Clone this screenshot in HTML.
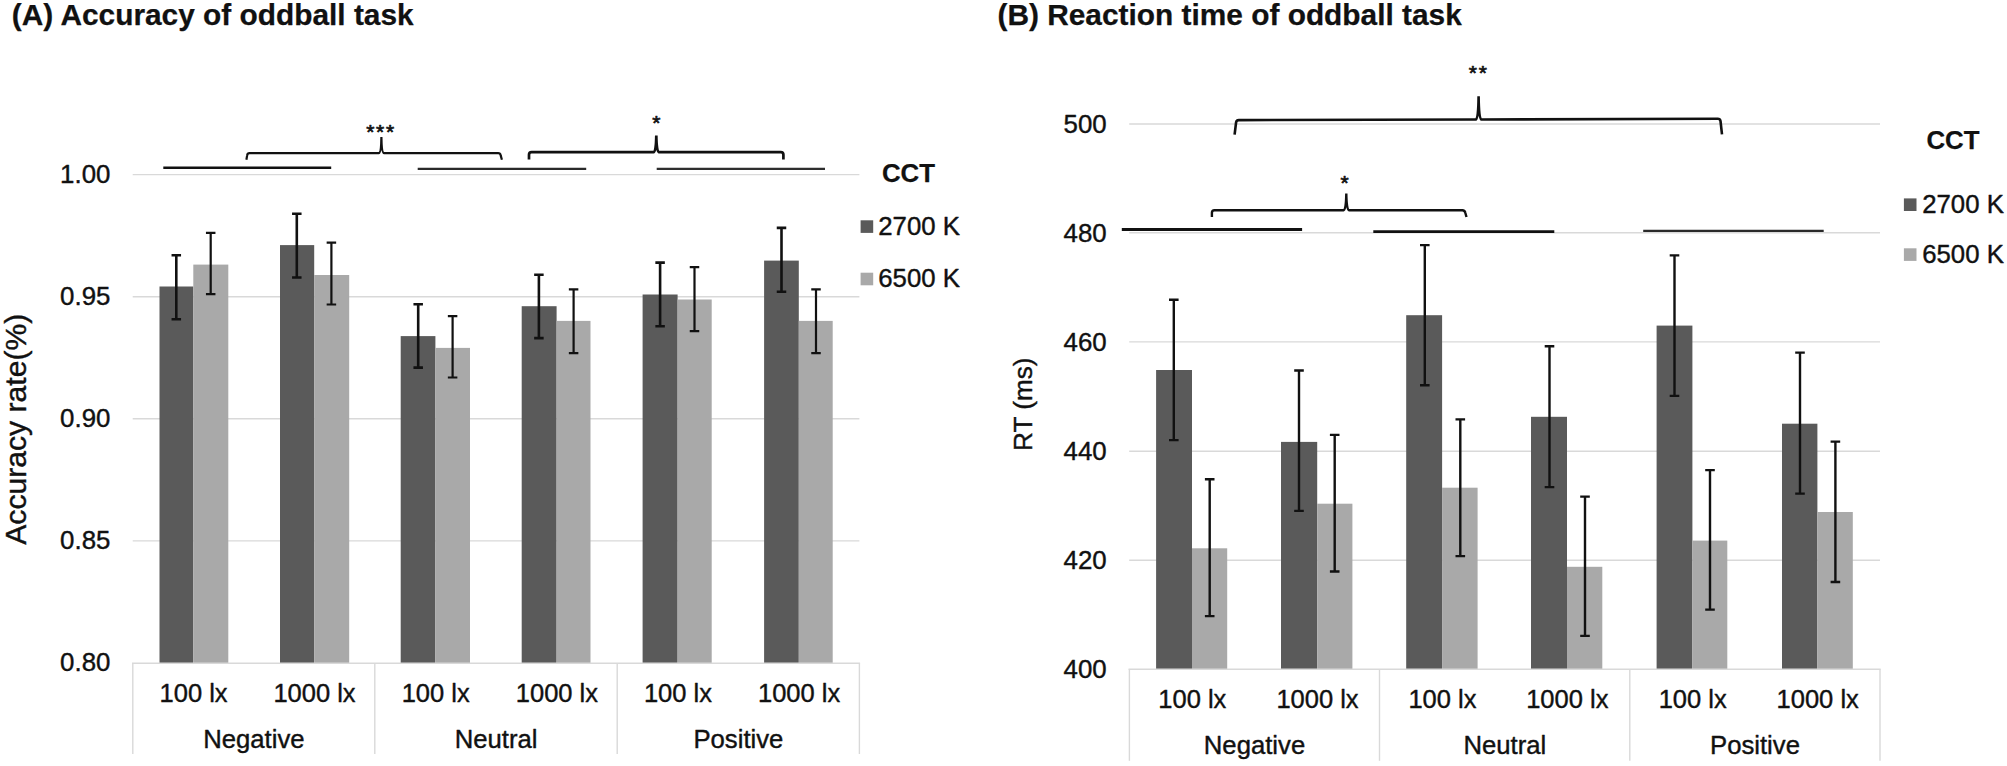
<!DOCTYPE html>
<html lang="en">
<head>
<meta charset="utf-8">
<title>Oddball task: accuracy and reaction time</title>
<style>
html,body{margin:0;padding:0;background:#fff;}
body{width:2007px;height:766px;overflow:hidden;}
svg{display:block;}
text{font-family:"Liberation Sans", Arial, Helvetica, sans-serif;fill:#111;stroke:#111;stroke-width:0.4px;stroke-linejoin:round;}
.b{font-weight:bold;stroke-width:0.25px;}
</style>
</head>
<body>
<svg width="2007" height="766" viewBox="0 0 2007 766">
<rect x="0" y="0" width="2007" height="766" fill="#ffffff"/>
<g id="chartA">
<line x1="132.7" y1="174.6" x2="859.4" y2="174.6" stroke="#d9d9d9" stroke-width="1.4"/>
<line x1="132.7" y1="296.7" x2="859.4" y2="296.7" stroke="#d9d9d9" stroke-width="1.4"/>
<line x1="132.7" y1="418.8" x2="859.4" y2="418.8" stroke="#d9d9d9" stroke-width="1.4"/>
<line x1="132.7" y1="540.9" x2="859.4" y2="540.9" stroke="#d9d9d9" stroke-width="1.4"/>
<rect x="159.5" y="286.5" width="33.80" height="376.80" fill="#5a5a5a"/>
<rect x="193.3" y="264.6" width="35.00" height="398.70" fill="#a9a9a9"/>
<rect x="280.0" y="245.1" width="34.20" height="418.20" fill="#5a5a5a"/>
<rect x="314.2" y="275.0" width="35.00" height="388.30" fill="#a9a9a9"/>
<rect x="400.7" y="336.1" width="34.70" height="327.20" fill="#5a5a5a"/>
<rect x="435.4" y="347.9" width="34.60" height="315.40" fill="#a9a9a9"/>
<rect x="521.7" y="306.2" width="34.90" height="357.10" fill="#5a5a5a"/>
<rect x="556.6" y="320.9" width="33.90" height="342.40" fill="#a9a9a9"/>
<rect x="642.6" y="294.5" width="35.00" height="368.80" fill="#5a5a5a"/>
<rect x="677.6" y="299.5" width="34.10" height="363.80" fill="#a9a9a9"/>
<rect x="764.1" y="260.6" width="34.70" height="402.70" fill="#5a5a5a"/>
<rect x="798.8" y="320.9" width="33.90" height="342.40" fill="#a9a9a9"/>
<line x1="132.0" y1="663.3" x2="860.1" y2="663.3" stroke="#d9d9d9" stroke-width="1.4"/>
<line x1="132.8" y1="663.3" x2="132.8" y2="754.0" stroke="#d9d9d9" stroke-width="1.4"/>
<line x1="374.8" y1="663.3" x2="374.8" y2="754.0" stroke="#d9d9d9" stroke-width="1.4"/>
<line x1="617.2" y1="663.3" x2="617.2" y2="754.0" stroke="#d9d9d9" stroke-width="1.4"/>
<line x1="859.4" y1="663.3" x2="859.4" y2="754.0" stroke="#d9d9d9" stroke-width="1.4"/>
<path d="M171.55 255.3H181.05M176.3 255.3V319.2M171.55 319.2H181.05" stroke="#111111" stroke-width="2.6" fill="none"/>
<path d="M205.95 232.9H215.45M210.7 232.9V294.2M205.95 294.2H215.45" stroke="#111111" stroke-width="2.2" fill="none"/>
<path d="M292.05 213.7H301.55M296.8 213.7V277.5M292.05 277.5H301.55" stroke="#111111" stroke-width="2.6" fill="none"/>
<path d="M326.65 242.6H336.15M331.4 242.6V304.5M326.65 304.5H336.15" stroke="#111111" stroke-width="2.2" fill="none"/>
<path d="M413.45 304.2H422.95M418.2 304.2V367.6M413.45 367.6H422.95" stroke="#111111" stroke-width="2.6" fill="none"/>
<path d="M447.85 316.2H457.35M452.6 316.2V377.5M447.85 377.5H457.35" stroke="#111111" stroke-width="2.2" fill="none"/>
<path d="M534.15 274.8H543.65M538.9 274.8V338.1M534.15 338.1H543.65" stroke="#111111" stroke-width="2.6" fill="none"/>
<path d="M568.85 289.3H578.35M573.6 289.3V353.1M568.85 353.1H578.35" stroke="#111111" stroke-width="2.2" fill="none"/>
<path d="M655.35 262.6H664.85M660.1 262.6V326.2M655.35 326.2H664.85" stroke="#111111" stroke-width="2.6" fill="none"/>
<path d="M689.75 267.1H699.25M694.5 267.1V331.1M689.75 331.1H699.25" stroke="#111111" stroke-width="2.2" fill="none"/>
<path d="M776.75 227.9H786.25M781.5 227.9V291.7M776.75 291.7H786.25" stroke="#111111" stroke-width="2.6" fill="none"/>
<path d="M811.25 289.3H820.75M816.0 289.3V353.1M811.25 353.1H820.75" stroke="#111111" stroke-width="2.2" fill="none"/>
<text x="110.4" y="182.60" text-anchor="end" font-size="25.85">1.00</text>
<text x="110.4" y="304.70" text-anchor="end" font-size="25.85">0.95</text>
<text x="110.4" y="426.80" text-anchor="end" font-size="25.85">0.90</text>
<text x="110.4" y="548.90" text-anchor="end" font-size="25.85">0.85</text>
<text x="110.4" y="671.00" text-anchor="end" font-size="25.85">0.80</text>
<text x="193.6" y="702.2" text-anchor="middle" font-size="25.5">100 lx</text>
<text x="314.5" y="702.2" text-anchor="middle" font-size="25.5">1000 lx</text>
<text x="435.7" y="702.2" text-anchor="middle" font-size="25.5">100 lx</text>
<text x="556.9" y="702.2" text-anchor="middle" font-size="25.5">1000 lx</text>
<text x="677.9" y="702.2" text-anchor="middle" font-size="25.5">100 lx</text>
<text x="799.1" y="702.2" text-anchor="middle" font-size="25.5">1000 lx</text>
<text x="253.9" y="747.6" text-anchor="middle" font-size="25.7">Negative</text>
<text x="496.1" y="747.6" text-anchor="middle" font-size="25.7">Neutral</text>
<text x="738.4" y="747.6" text-anchor="middle" font-size="25.7">Positive</text>
</g>
<g id="chartB">
<line x1="1129.2" y1="124.0" x2="1880.0" y2="124.0" stroke="#d9d9d9" stroke-width="1.4"/>
<line x1="1129.2" y1="232.8" x2="1880.0" y2="232.8" stroke="#d9d9d9" stroke-width="1.4"/>
<line x1="1129.2" y1="341.9" x2="1880.0" y2="341.9" stroke="#d9d9d9" stroke-width="1.4"/>
<line x1="1129.2" y1="451.2" x2="1880.0" y2="451.2" stroke="#d9d9d9" stroke-width="1.4"/>
<line x1="1129.2" y1="560.3" x2="1880.0" y2="560.3" stroke="#d9d9d9" stroke-width="1.4"/>
<rect x="1156.1" y="370.0" width="35.90" height="299.30" fill="#5a5a5a"/>
<rect x="1192.0" y="548.3" width="35.20" height="121.00" fill="#a9a9a9"/>
<rect x="1281.0" y="441.9" width="36.20" height="227.40" fill="#5a5a5a"/>
<rect x="1317.2" y="503.7" width="35.20" height="165.60" fill="#a9a9a9"/>
<rect x="1406.2" y="315.2" width="35.90" height="354.10" fill="#5a5a5a"/>
<rect x="1442.1" y="487.7" width="35.50" height="181.60" fill="#a9a9a9"/>
<rect x="1531.0" y="416.8" width="36.00" height="252.50" fill="#5a5a5a"/>
<rect x="1567.0" y="566.8" width="35.30" height="102.50" fill="#a9a9a9"/>
<rect x="1656.6" y="325.6" width="35.80" height="343.70" fill="#5a5a5a"/>
<rect x="1692.4" y="540.6" width="34.90" height="128.70" fill="#a9a9a9"/>
<rect x="1782.0" y="423.7" width="35.40" height="245.60" fill="#5a5a5a"/>
<rect x="1817.4" y="512.0" width="35.40" height="157.30" fill="#a9a9a9"/>
<line x1="1128.5" y1="669.3" x2="1880.7" y2="669.3" stroke="#d9d9d9" stroke-width="1.4"/>
<line x1="1129.4" y1="669.3" x2="1129.4" y2="760.8" stroke="#d9d9d9" stroke-width="1.4"/>
<line x1="1379.5" y1="669.3" x2="1379.5" y2="760.8" stroke="#d9d9d9" stroke-width="1.4"/>
<line x1="1629.8" y1="669.3" x2="1629.8" y2="760.8" stroke="#d9d9d9" stroke-width="1.4"/>
<line x1="1880.0" y1="669.3" x2="1880.0" y2="760.8" stroke="#d9d9d9" stroke-width="1.4"/>
<path d="M1169.00 299.7H1178.60M1173.8 299.7V440.1M1169.00 440.1H1178.60" stroke="#111111" stroke-width="2.4" fill="none"/>
<path d="M1204.90 479.3H1214.50M1209.7 479.3V616.1M1204.90 616.1H1214.50" stroke="#111111" stroke-width="2.4" fill="none"/>
<path d="M1294.20 370.5H1303.80M1299.0 370.5V510.9M1294.20 510.9H1303.80" stroke="#111111" stroke-width="2.4" fill="none"/>
<path d="M1329.90 434.9H1339.50M1334.7 434.9V571.5M1329.90 571.5H1339.50" stroke="#111111" stroke-width="2.4" fill="none"/>
<path d="M1420.00 245.1H1429.60M1424.8 245.1V385.2M1420.00 385.2H1429.60" stroke="#111111" stroke-width="2.4" fill="none"/>
<path d="M1455.50 419.4H1465.10M1460.3 419.4V556.1M1455.50 556.1H1465.10" stroke="#111111" stroke-width="2.4" fill="none"/>
<path d="M1544.70 346.3H1554.30M1549.5 346.3V487.1M1544.70 487.1H1554.30" stroke="#111111" stroke-width="2.4" fill="none"/>
<path d="M1580.20 496.6H1589.80M1585.0 496.6V635.9M1580.20 635.9H1589.80" stroke="#111111" stroke-width="2.4" fill="none"/>
<path d="M1669.70 255.4H1679.30M1674.5 255.4V395.9M1669.70 395.9H1679.30" stroke="#111111" stroke-width="2.4" fill="none"/>
<path d="M1705.20 470.1H1714.80M1710.0 470.1V609.6M1705.20 609.6H1714.80" stroke="#111111" stroke-width="2.4" fill="none"/>
<path d="M1795.20 352.6H1804.80M1800.0 352.6V493.6M1795.20 493.6H1804.80" stroke="#111111" stroke-width="2.4" fill="none"/>
<path d="M1830.60 441.6H1840.20M1835.4 441.6V582.0M1830.60 582.0H1840.20" stroke="#111111" stroke-width="2.4" fill="none"/>
<text x="1106.7" y="132.75" text-anchor="end" font-size="25.85">500</text>
<text x="1106.7" y="241.55" text-anchor="end" font-size="25.85">480</text>
<text x="1106.7" y="350.65" text-anchor="end" font-size="25.85">460</text>
<text x="1106.7" y="459.85" text-anchor="end" font-size="25.85">440</text>
<text x="1106.7" y="569.05" text-anchor="end" font-size="25.85">420</text>
<text x="1106.7" y="678.05" text-anchor="end" font-size="25.85">400</text>
<text x="1192.3" y="708.4" text-anchor="middle" font-size="25.5">100 lx</text>
<text x="1317.5" y="708.4" text-anchor="middle" font-size="25.5">1000 lx</text>
<text x="1442.4" y="708.4" text-anchor="middle" font-size="25.5">100 lx</text>
<text x="1567.3" y="708.4" text-anchor="middle" font-size="25.5">1000 lx</text>
<text x="1692.7" y="708.4" text-anchor="middle" font-size="25.5">100 lx</text>
<text x="1817.7" y="708.4" text-anchor="middle" font-size="25.5">1000 lx</text>
<text x="1254.5" y="753.8" text-anchor="middle" font-size="25.7">Negative</text>
<text x="1504.8" y="753.8" text-anchor="middle" font-size="25.7">Neutral</text>
<text x="1755.0" y="753.8" text-anchor="middle" font-size="25.7">Positive</text>
</g>
<text class="b" x="11.8" y="25.3" font-size="29.85">(A) Accuracy of oddball task</text>
<text class="b" x="997.5" y="25.3" font-size="29.85">(B) Reaction time of oddball task</text>
<text transform="translate(26.4 429.2) rotate(-90)" text-anchor="middle" font-size="30.15">Accuracy rate(%)</text>
<text transform="translate(1032.0 404.2) rotate(-90)" text-anchor="middle" font-size="26.2">RT (ms)</text>
<text class="b" x="881.9" y="181.5" font-size="25.8">CCT</text>
<rect x="860.6" y="220.3" width="12.6" height="12.6" fill="#5a5a5a"/>
<rect x="860.6" y="272.7" width="12.6" height="12.6" fill="#a9a9a9"/>
<text x="878.3" y="234.7" font-size="25.75">2700 K</text>
<text x="878.3" y="286.8" font-size="25.75">6500 K</text>
<text class="b" x="1926.4" y="149.4" font-size="25.8">CCT</text>
<rect x="1903.9" y="198.4" width="12.6" height="12.6" fill="#5a5a5a"/>
<rect x="1903.9" y="248.3" width="12.6" height="12.6" fill="#a9a9a9"/>
<text x="1922.2" y="212.8" font-size="25.75">2700 K</text>
<text x="1922.2" y="262.7" font-size="25.75">6500 K</text>
<line x1="163.3" y1="167.7" x2="331.2" y2="167.7" stroke="#111111" stroke-width="2.4"/>
<line x1="417.7" y1="168.9" x2="586.2" y2="168.9" stroke="#2a2a2a" stroke-width="2.2"/>
<line x1="656.7" y1="168.9" x2="825.0" y2="168.9" stroke="#2e2e2e" stroke-width="2.1"/>
<line x1="1121.8" y1="229.4" x2="1302.1" y2="229.4" stroke="#111111" stroke-width="3.0"/>
<line x1="1373.3" y1="231.7" x2="1554.3" y2="231.7" stroke="#111111" stroke-width="2.8"/>
<line x1="1643.2" y1="230.9" x2="1823.7" y2="230.9" stroke="#2a2a2a" stroke-width="2.1"/>
<path d="M246.4 159.8 L247.15 155.40 Q247.40 153.2 249.60 153.2 L378.80 153.20 Q381.10 153.20 381.4 137.0 Q381.70 153.20 384.00 153.20 L498.10 153.2 Q500.30 153.2 500.70 155.40 L501.9 159.8" stroke="#111111" stroke-width="2.2" fill="none" stroke-linejoin="miter" stroke-miterlimit="10"/>
<path d="M529.0 159.6 L529.00 154.80 Q529.00 152.2 531.60 152.2 L653.70 152.20 Q656.00 152.20 656.3 135.6 Q656.60 152.20 658.90 152.20 L780.80 152.2 Q783.40 152.2 783.40 154.80 L783.4 159.6" stroke="#111111" stroke-width="2.7" fill="none" stroke-linejoin="miter" stroke-miterlimit="10"/>
<path d="M1211.9 217.0 L1211.90 212.80 Q1211.90 210.2 1214.50 210.2 L1343.70 210.20 Q1346.00 210.20 1346.3 193.6 Q1346.60 210.20 1348.90 210.20 L1462.30 210.2 Q1464.90 210.2 1465.30 212.80 L1466.5 217.0" stroke="#111111" stroke-width="2.4" fill="none" stroke-linejoin="miter" stroke-miterlimit="10"/>
<path d="M1234.6 134.6 L1236.10 122.30 Q1236.60 120.1 1238.80 120.1 L1476.00 119.45 Q1478.30 119.45 1478.6 96.2 Q1478.90 119.45 1481.20 119.45 L1717.80 118.8 Q1720.00 118.8 1720.50 121.00 L1722.0 134.3" stroke="#111111" stroke-width="2.6" fill="none" stroke-linejoin="miter" stroke-miterlimit="10"/>
<text x="381.09999999999997" y="139.1" text-anchor="middle" font-size="21.0" letter-spacing="1.8" style="stroke-width:0.7px">***</text>
<text x="657.1999999999999" y="129.5" text-anchor="middle" font-size="21.0" letter-spacing="1.8" style="stroke-width:0.7px">*</text>
<text x="1345.5" y="190.05" text-anchor="middle" font-size="21.0" letter-spacing="1.8" style="stroke-width:0.7px">*</text>
<text x="1478.65" y="79.9" text-anchor="middle" font-size="21.0" letter-spacing="1.8" style="stroke-width:0.7px">**</text>
</svg>
</body>
</html>
